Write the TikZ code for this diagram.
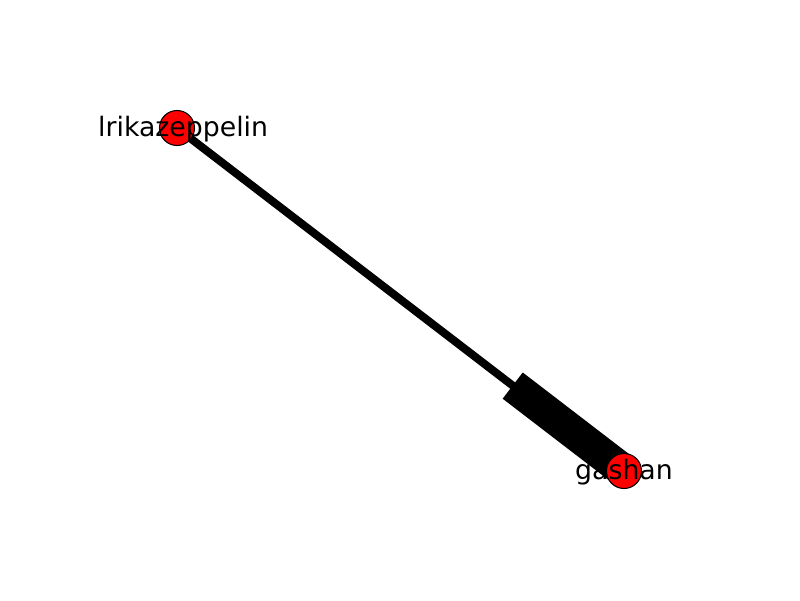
\documentclass[tikz,border=0pt]{standalone}
\usepackage{fontspec}
\setmainfont{DejaVu Sans}
\usetikzlibrary{calc}
\usetikzlibrary{backgrounds}
\usepackage{xcolor}
\definecolor{nodered}{HTML}{FF0000}

\begin{document}
\begin{tikzpicture}[
        x=0.01cm, y=-0.01cm,
        vertex/.style={circle, draw=black, line width=0.3pt, fill=nodered,
          minimum size=0.35cm, inner sep=0pt},
        edge/.style={line width=0.08cm, black, line cap=butt},
        edgehead/.style={line width=0.33cm, black, line cap=butt},
        vlabel/.style={font=\fontsize{7.6}{9}\selectfont, inner sep=0pt},
      ]
      \useasboundingbox (0,0) rectangle (800,600);

      % === vertices ===
      \node[vertex] (erika) at (177,128) {};
      \node[vertex] (gashan) at (624,471) {};

      % === edge (behind the vertices) ===
      \begin{scope}[on background layer]
        \coordinate (headstart) at ($(gashan.center)!0.249!(erika.center)$);
        \draw[edge] (erika.center) -- (gashan.center);
        \draw[edgehead] (headstart) -- (gashan.center);
      \end{scope}

      % === labels ===
      \node[vlabel, anchor=base west] (erikalbl) at (97.5,136) {lrikazeppelin};
      \node[vlabel, anchor=base] (gashanlbl) at (624,479) {gashan};
\end{tikzpicture}
\end{document}
